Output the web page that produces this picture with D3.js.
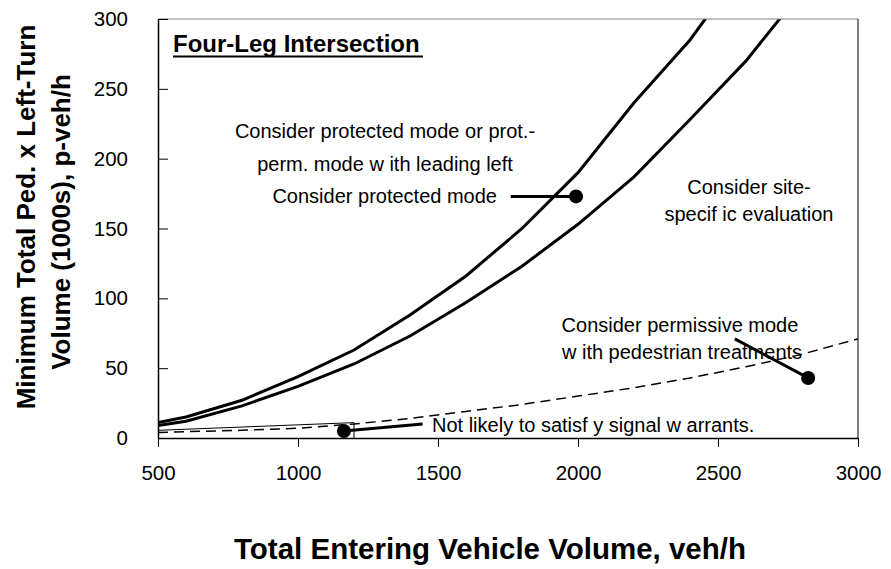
<!DOCTYPE html>
<html><head><meta charset="utf-8">
<script src="https://cdn.jsdelivr.net/npm/d3@7"></script>
<style>body{margin:0;background:#fff}svg{display:block;font-family:Arial,"Liberation Sans",sans-serif}</style>
</head><body><svg id="c" width="891" height="569"></svg>
<script>
// Data
const xTicks = [500, 1000, 1500, 2000, 2500, 3000];
const yTicks = [0, 50, 100, 150, 200, 250, 300];
const volumes = [500, 600, 800, 1000, 1200, 1400, 1600, 1800, 2000, 2200, 2400, 2600, 2800, 3000];
const protectedLine = [11, 15, 27, 44, 63, 88, 116, 150, 190, 240, 285, 340, 395, 455];
const siteSpecificLine = [9, 12, 23, 37, 53, 73, 97, 123, 153, 187, 228, 270, 320, 375];
const permissiveLine = [4, 4.5, 5.5, 7, 10, 14, 19, 24, 30, 36, 43, 51, 60, 71];
const warrantBox = [[500, 5.5], [1200, 11], [1200, 0]];
const markers = [[1164, 5], [1993, 173], [2822, 43]];

const svg = d3.select("#c");
const x = d3.scaleLinear().domain([500, 3000]).range([158, 858]);
const y = d3.scaleLinear().domain([0, 300]).range([438, 19]);

svg.append("defs").append("clipPath").attr("id", "clip")
  .append("rect").attr("x", 158).attr("y", 19).attr("width", 700).attr("height", 419);

const g = svg.append("g").attr("clip-path", "url(#clip)");
const line = d3.line().x((d, i) => x(volumes[i])).y(d => y(d));

g.append("path").datum(permissiveLine).attr("d", line).attr("fill", "none")
  .attr("stroke", "#000").attr("stroke-width", 1.5).attr("stroke-dasharray", "10,6");
g.append("path").datum(protectedLine).attr("d", line).attr("fill", "none")
  .attr("stroke", "#000").attr("stroke-width", 3);
g.append("path").datum(siteSpecificLine).attr("d", line).attr("fill", "none")
  .attr("stroke", "#000").attr("stroke-width", 3);

g.append("path").datum(warrantBox)
  .attr("d", d3.line().x(d => x(d[0])).y(d => y(d[1])))
  .attr("fill", "none").attr("stroke", "#000").attr("stroke-width", 1);

// frame
svg.append("line").attr("x1", 158).attr("x2", 858).attr("y1", 19).attr("y2", 19).attr("stroke", "#808080").attr("stroke-width", 1);
svg.append("line").attr("x1", 858).attr("x2", 858).attr("y1", 19).attr("y2", 438).attr("stroke", "#000").attr("stroke-width", 1);

// axes
const xAxis = svg.append("g").attr("transform", "translate(0,438)")
  .call(d3.axisBottom(x).tickValues(xTicks).tickSize(9).tickSizeOuter(0).tickPadding(18).tickFormat(d3.format("d")));
const yAxis = svg.append("g").attr("transform", "translate(158,0)")
  .call(d3.axisLeft(y).tickValues(yTicks).tickSize(-10).tickSizeOuter(0).tickPadding(30).tickFormat(d3.format("d")));
[xAxis, yAxis].forEach(a => {
  a.select(".domain").attr("stroke", "#000").attr("stroke-width", 1.5);
  a.selectAll(".tick line").attr("stroke", "#000").attr("stroke-width", 1);
  a.selectAll(".tick text").attr("font-size", 20.5).attr("fill", "#000").attr("font-family", "Arial, 'Liberation Sans', sans-serif");
});

// leaders and markers
const leaders = [[[1164, 5], [1445, 10]], [[1993, 173], [1760, 173]], [[2822, 43], [2560, 71]]];
leaders.forEach(l => svg.append("line")
  .attr("x1", x(l[0][0])).attr("y1", y(l[0][1])).attr("x2", x(l[1][0])).attr("y2", y(l[1][1]))
  .attr("stroke", "#000").attr("stroke-width", 3));
svg.selectAll("circle.m").data(markers).join("circle").attr("class", "m")
  .attr("cx", d => x(d[0])).attr("cy", d => y(d[1])).attr("r", 7).attr("fill", "#000");

// annotations
function txt(str, px, py, opts = {}) {
  return svg.append("text").attr("x", px).attr("y", py).text(str)
    .attr("font-size", opts.size || 20).attr("font-weight", opts.bold ? "bold" : "normal")
    .attr("text-anchor", opts.anchor || "start").attr("fill", "#000");
}
txt("Four-Leg Intersection", 173, 52, {size: 24, bold: true});
svg.append("line").attr("x1", 173).attr("x2", 423).attr("y1", 56.5).attr("y2", 56.5).attr("stroke", "#000").attr("stroke-width", 2);
txt("Consider protected mode or prot.-", 385, 138, {anchor: "middle"});
txt("perm. mode w ith leading left", 385, 171, {anchor: "middle"});
txt("Consider protected mode", 497, 203, {anchor: "end"});
txt("Consider site-", 749, 194, {anchor: "middle"});
txt("specif ic evaluation", 749, 221, {anchor: "middle"});
txt("Consider permissive mode", 680, 332, {anchor: "middle"});
txt("w ith pedestrian treatments", 682, 359, {anchor: "middle"});
txt("Not likely to satisf y signal w arrants.", 432, 432);

// axis titles
txt("Total Entering Vehicle Volume, veh/h", 490, 559, {size: 29.5, bold: true, anchor: "middle"});
svg.append("text").attr("transform", "translate(35,217) rotate(-90)").attr("text-anchor", "middle")
  .attr("font-size", 26).attr("font-weight", "bold").text("Minimum Total Ped. x Left-Turn");
svg.append("text").attr("transform", "translate(70,222) rotate(-90)").attr("text-anchor", "middle")
  .attr("font-size", 26).attr("font-weight", "bold").text("Volume (1000s), p-veh/h");
</script></body></html>
